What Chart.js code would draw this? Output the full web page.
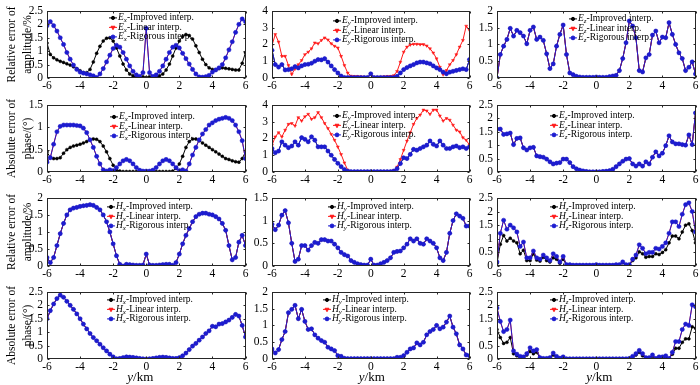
<!DOCTYPE html>
<html>
<head>
<meta charset="utf-8">
<script src="https://cdn.jsdelivr.net/npm/chart.js@4.4.1/dist/chart.umd.min.js"></script>
<style>
  body { margin: 0; background: #fff; }
  #fig { position: relative; width: 700px; height: 385px; background: #fff; overflow: hidden; }
  #fig canvas { position: absolute; }
</style>
</head>
<body>
<div id="fig"></div>
<script>
// y positions of the stations (km)
var yKm = [-6, -5.8, -5.6, -5.4, -5.2, -5, -4.8, -4.6, -4.4, -4.2,
  -4, -3.8, -3.6, -3.4, -3.2, -3, -2.8, -2.6, -2.4, -2.2,
  -2, -1.8, -1.6, -1.4, -1.2, -1, -0.8, -0.6, -0.4, -0.2,
  0,
  0.2, 0.4, 0.6, 0.8, 1, 1.2, 1.4, 1.6, 1.8, 2,
  2.2, 2.4, 2.6, 2.8, 3, 3.2, 3.4, 3.6, 3.8, 4,
  4.2, 4.4, 4.6, 4.8, 5, 5.2, 5.4, 5.6, 5.8, 6];

var xTicks = [-6, -4, -2, 0, 2, 4, 6];

// Ex amplitude (%)
var exAmpImp = [1.3, 0.88, 0.75, 0.68, 0.62, 0.58, 0.53, 0.48, 0.42, 0.35,
  0.27, 0.2, 0.2, 0.32, 0.6, 0.92, 1.18, 1.38, 1.48, 1.5,
  1.38, 1.12, 0.82, 0.52, 0.3, 0.15, 0.08, 0.03, 0.02, 0.05,
  0.02,
  0.05, 0.02, 0.03, 0.08, 0.15, 0.3, 0.52, 0.82, 1.12, 1.38,
  1.55, 1.62, 1.58, 1.45, 1.2, 0.95, 0.7, 0.5, 0.38, 0.32,
  0.3, 0.35, 0.38, 0.36, 0.34, 0.32, 0.3, 0.3, 0.55, 0.95];
var exAmpRig = [1.95, 2.1, 1.95, 1.75, 1.5, 1.25, 0.95, 0.7, 0.48, 0.32,
  0.22, 0.18, 0.15, 0.12, 0.08, 0.02, 0.15, 0.35, 0.6, 0.85,
  1.1, 1.22, 1.15, 0.95, 0.7, 0.45, 0.25, 0.12, 0.06, 0.2,
  1.85,
  0.2, 0.06, 0.12, 0.25, 0.45, 0.7, 0.95, 1.15, 1.22, 1.12,
  0.92, 0.72, 0.52, 0.32, 0.15, 0.04, 0.03, 0.05, 0.1, 0.22,
  0.3, 0.38, 0.5, 0.75, 1.05, 1.35, 1.7, 2.0, 2.2, 2.1];

// Ey amplitude (%)
var eyAmpLin = [1.95, 2.6, 2.15, 1.3, 1.3, 0.75, 0.22, 0.55, 0.8, 1.05,
  1.4, 1.55, 1.75, 2.1, 2.05, 2.25, 2.4, 2.28, 2.05, 1.9,
  1.8, 1.3, 0.75, 0.3, 0.12, 0.1, 0.1, 0.08, 0.06, 0.05,
  0.22,
  0.05, 0.05, 0.06, 0.08, 0.1, 0.1, 0.15, 0.4, 0.95, 1.55,
  1.85, 1.98, 2.02, 2.02, 2.0, 2.0, 1.92, 1.75, 1.5, 1.15,
  0.65, 0.2, 0.45, 0.8, 1.05, 1.4, 1.85, 2.25, 3.1, 2.85];
var eyAmpRig = [1.65, 0.8, 0.65, 0.8, 0.48, 0.5, 0.55, 0.68, 0.6, 0.72,
  0.8, 0.82, 0.88, 1.0, 1.1, 1.08, 1.15, 0.95, 0.72, 0.5,
  0.3, 0.12, 0.03, 0.03, 0.03, 0.03, 0.03, 0.03, 0.03, 0.03,
  0.25,
  0.03, 0.03, 0.03, 0.03, 0.03, 0.03, 0.03, 0.1, 0.3, 0.5,
  0.62, 0.72, 0.8, 0.9, 0.95, 0.95, 0.9, 0.85, 0.72, 0.6,
  0.5, 0.35, 0.25, 0.35, 0.4, 0.45, 0.5, 0.55, 0.5, 1.1];

// Ez amplitude (%)
var ezAmpRig = [0, 0.7, 0.95, 1.15, 1.48, 1.25, 1.42, 1.35, 1.25, 1.02,
  1.42, 1.52, 1.15, 1.22, 1.12, 0.72, 0.28, 0.42, 0.95, 1.3,
  1.58, 0.7, 0.15, 0.1, 0.05, 0.03, 0.02, 0.02, 0.02, 0.02,
  0.03,
  0.02, 0.02, 0.02, 0.04, 0.06, 0.08, 0.22, 0.58, 1.05, 1.7,
  1.55, 1.2, 0.22, 0.18, 0.6, 0.7, 1.28, 1.4, 1.05, 1.22,
  1.2, 1.65, 1.3, 1.0, 0.75, 0.58, 0.22, 0.32, 0.48, 0.12];

// Ex phase (deg)
var exPhImp = [0.45, 0.32, 0.3, 0.3, 0.32, 0.42, 0.5, 0.55, 0.58, 0.6,
  0.62, 0.65, 0.68, 0.72, 0.74, 0.73, 0.68, 0.58, 0.45, 0.3,
  0.15, 0.05, 0.02, 0.01, 0.01, 0.01, 0.01, 0.01, 0.01, 0.01,
  0.01,
  0.01, 0.01, 0.01, 0.01, 0.01, 0.01, 0.01, 0.02, 0.08, 0.18,
  0.35, 0.55, 0.68, 0.74, 0.74, 0.7, 0.65, 0.6, 0.55, 0.5,
  0.45, 0.4, 0.35, 0.3, 0.28, 0.25, 0.23, 0.22, 0.3, 0.45];
var exPhRig = [0.22, 0.32, 0.62, 0.9, 1.02, 1.05, 1.05, 1.05, 1.05, 1.04,
  1.03, 0.98, 0.88, 0.72, 0.55, 0.35, 0.18, 0.05, 0.02, 0.05,
  0.03, 0.1, 0.18, 0.25, 0.28, 0.25, 0.18, 0.1, 0.04, 0.02,
  0.02,
  0.02, 0.04, 0.1, 0.18, 0.25, 0.28, 0.25, 0.18, 0.1, 0.03,
  0.05, 0.02, 0.18, 0.38, 0.55, 0.72, 0.85, 0.95, 1.05, 1.1,
  1.15, 1.18, 1.2, 1.22, 1.2, 1.15, 1.05, 0.9, 0.7, 0.3];

// Ey phase (deg)
var eyPhLin = [1.6, 2.1, 2.35, 2.1, 2.5, 2.85, 2.9, 2.75, 3.25, 3.05,
  3.3, 3.45, 3.15, 3.25, 3.55, 3.25, 2.9, 2.6, 2.25, 1.9,
  1.5, 1.05, 0.55, 0.12, 0.02, 0.02, 0.02, 0.02, 0.02, 0.02,
  0.02,
  0.02, 0.02, 0.02, 0.02, 0.02, 0.02, 0.1, 0.3, 0.75, 1.3,
  1.85, 2.35, 2.85, 3.2, 3.4, 3.7, 3.65, 3.45, 3.7, 3.7,
  3.35, 3.05, 3.2, 3.1, 2.8, 2.5, 2.4, 2.05, 1.9, 1.6];
var eyPhRig = [1.4, 1.15, 1.25, 1.8, 1.6, 1.45, 1.55, 1.8, 1.6, 2.05,
  1.95, 1.8, 2.1, 1.9, 1.5, 1.5, 1.5, 1.25, 1.0, 0.75,
  0.52, 0.32, 0.15, 0.05, 0.02, 0.02, 0.02, 0.02, 0.02, 0.02,
  0.02,
  0.02, 0.02, 0.02, 0.02, 0.02, 0.02, 0.06, 0.2, 0.5, 0.85,
  0.8, 1.05, 1.35, 1.3, 1.4, 1.5, 1.6, 1.85, 1.65, 1.55,
  1.85, 1.6, 1.4, 1.4, 1.5, 1.55, 1.45, 1.5, 1.4, 1.5];

// Ez phase (deg)
var ezPhRig = [1.6, 1.6, 1.4, 1.42, 1.45, 1.02, 1.25, 1.27, 0.9, 0.82,
  0.9, 0.92, 0.6, 0.57, 0.55, 0.48, 0.38, 0.3, 0.33, 0.35,
  0.48, 0.48, 0.35, 0.2, 0.12, 0.07, 0.04, 0.02, 0.01, 0.01,
  0.01,
  0.01, 0.02, 0.03, 0.05, 0.1, 0.2, 0.3, 0.4, 0.48, 0.5,
  0.3, 0.22, 0.3, 0.22, 0.38, 0.3, 0.55, 0.75, 0.6, 0.7,
  0.98, 1.35, 1.12, 1.05, 1.05, 1.02, 1.0, 1.38, 1.02, 2.2];

// Hx amplitude (%)
var hxAmpRig = [0.25, 0.1, 0.25, 0.6, 0.95, 1.25, 1.5, 1.65, 1.7, 1.72,
  1.75, 1.77, 1.78, 1.8, 1.78, 1.72, 1.65, 1.5, 1.3, 1.0,
  0.65, 0.3, 0.05, 0.0, 0.05, 0.04, 0.03, 0.02, 0.02, 0.03,
  0.35,
  0.03, 0.02, 0.02, 0.03, 0.04, 0.05, 0.05, 0.02, 0.1, 0.35,
  0.65, 0.9, 1.1, 1.3, 1.45, 1.52, 1.55, 1.55, 1.52, 1.5,
  1.45, 1.38, 1.25, 1.05, 0.6, 0.18, 0.25, 0.7, 0.9, 0.6];

// Hy amplitude (%)
var hyAmpRig = [0.92, 0.8, 0.9, 1.12, 1.22, 0.95, 0.5, 0.1, 0.15, 0.45,
  0.45, 0.35, 0.45, 0.52, 0.5, 0.58, 0.58, 0.55, 0.55, 0.48,
  0.4, 0.3, 0.25, 0.22, 0.12, 0.08, 0.05, 0.03, 0.02, 0.02,
  0.15,
  0.02, 0.02, 0.05, 0.08, 0.12, 0.18, 0.3, 0.32, 0.33, 0.4,
  0.48, 0.6, 0.55, 0.6, 0.5, 0.48, 0.6, 0.55, 0.5, 0.4,
  0.18, 0.12, 0.3, 0.72, 1.0, 1.15, 1.1, 1.05, 0.88, 0.88];

// Hz amplitude (%)
var hzAmpImp = [0.1, 0.8, 1.12, 0.92, 1.02, 0.92, 0.85, 0.45, 0.58, 0.2,
  0.2, 0.45, 0.22, 0.18, 0.32, 0.2, 0.15, 0.3, 0.25, 0.1,
  0.25, 0.03, 0.03, 0.02, 0.02, 0.02, 0.02, 0.02, 0.02, 0.02,
  0.03,
  0.02, 0.02, 0.02, 0.02, 0.02, 0.03, 0.03, 0.12, 0.03, 0.03,
  0.2, 0.3, 0.52, 0.45, 0.32, 0.35, 0.35, 0.45, 0.42, 0.5,
  0.6, 0.85, 1.1, 1.1, 1.0, 1.25, 1.5, 1.55, 1.3, 0.85];
var hzAmpRig = [0.15, 1.2, 1.68, 1.35, 1.5, 1.4, 1.25, 0.72, 0.88, 0.3,
  0.3, 0.55, 0.3, 0.25, 0.4, 0.3, 0.2, 0.45, 0.35, 0.15,
  0.35, 0.05, 0.05, 0.03, 0.03, 0.03, 0.03, 0.03, 0.03, 0.03,
  0.05,
  0.03, 0.03, 0.03, 0.03, 0.03, 0.05, 0.05, 0.15, 0.05, 0.05,
  0.25, 0.4, 0.78, 0.65, 0.45, 0.5, 0.5, 0.65, 0.62, 0.72,
  0.85, 1.2, 1.62, 1.62, 1.45, 1.9, 2.25, 2.32, 2.0, 1.25];

// Hx phase (deg)
var hxPhRig = [1.5, 1.8, 2.05, 2.25, 2.38, 2.3, 2.15, 2.0, 1.85, 1.68,
  1.5, 1.3, 1.12, 0.95, 0.8, 0.68, 0.55, 0.42, 0.3, 0.18,
  0.08, 0.01, 0.02, 0.05, 0.08, 0.07, 0.06, 0.04, 0.02, 0.01,
  0.0,
  0.01, 0.02, 0.04, 0.06, 0.07, 0.06, 0.04, 0.02, 0.02, 0.05,
  0.12, 0.22, 0.35, 0.48, 0.58, 0.7, 0.82, 0.95, 1.05, 1.22,
  1.2, 1.3, 1.32, 1.38, 1.45, 1.55, 1.66, 1.6, 1.25, 0.82];

// Hy phase (deg)
var hyPhRig = [0.3, 0.18, 0.28, 0.58, 0.82, 1.38, 1.48, 1.6, 1.2, 1.48,
  1.12, 0.88, 0.9, 0.72, 0.62, 0.55, 0.5, 0.35, 0.3, 0.25,
  0.1, 0.08, 0.02, 0.01, 0.01, 0.01, 0.01, 0.01, 0.01, 0.01,
  0.01,
  0.01, 0.01, 0.01, 0.01, 0.01, 0.01, 0.01, 0.05, 0.05, 0.1,
  0.2, 0.3, 0.33, 0.48, 0.42, 0.5, 0.72, 0.82, 0.88, 1.0,
  0.9, 0.95, 1.1, 1.28, 0.95, 0.75, 0.42, 0.3, 0.12, 0.1];

// Hz phase (deg)
var hzPhImp = [1.1, 0.8, 0.58, 0.62, 0.8, 0.2, 0.12, 0.06, 0.06, 0.15,
  0.28, 0.2, 0.25, 0.03, 0.01, 0.01, 0.03, 0.15, 0.06, 0.02,
  0.05, 0.01, 0.01, 0.01, 0.01, 0.01, 0.01, 0.01, 0.01, 0.01,
  0.01,
  0.01, 0.01, 0.01, 0.01, 0.01, 0.01, 0.01, 0.01, 0.01, 0.01,
  0.06, 0.15, 0.25, 0.12, 0.03, 0.03, 0.1, 0.01, 0.05, 0.05,
  0.08, 0.01, 0.18, 0.4, 0.4, 0.62, 0.75, 0.75, 1.2, 1.15];
var hzPhRig = [1.9, 1.4, 1.02, 1.1, 1.45, 0.3, 0.18, 0.1, 0.08, 0.2,
  0.42, 0.3, 0.35, 0.05, 0.02, 0.02, 0.05, 0.22, 0.1, 0.03,
  0.08, 0.01, 0.01, 0.01, 0.01, 0.01, 0.01, 0.01, 0.01, 0.01,
  0.01,
  0.01, 0.01, 0.01, 0.01, 0.01, 0.01, 0.01, 0.01, 0.01, 0.02,
  0.1, 0.2, 0.32, 0.2, 0.05, 0.05, 0.15, 0.02, 0.08, 0.08,
  0.12, 0.02, 0.25, 0.65, 0.65, 1.1, 1.3, 1.25, 2.02, 1.95];

var seriesNames = ['-Improved interp.', '-Linear interp.', '-Rigorous interp.'];
var ampTitle = ['Relative error of', 'amplitude/%'];
var phaseTitle = ['Absolute error of', 'phase/(\u00b0)'];

var FONT = '"Liberation Serif", "Times New Roman", serif';
var BLACK = '#000000';
var RED = '#ff1a1a';
var BLUE = '#1c1cd0';

var markers = [
  { color: BLACK, style: 'circle', radius: 1.6, rot: 0 },
  { color: RED, style: 'triangle', radius: 2.3, rot: 180 },
  { color: BLUE, style: 'circle', radius: 1.9, rot: 0 }
];

// canvas boxes: each plot area is placed where the figure has it
var cols = [
  { left: 0, w: 250, yw: 47, pr: 3, tshift: -6 },
  { left: 250, w: 224, yw: 22, pr: 3, tshift: 1 },
  { left: 474, w: 226, yw: 23, pr: 2, tshift: 3 }
];
var rows = [
  { top: 0, h: 90, pb: 0, title: ampTitle },
  { top: 94, h: 90, pb: 0, title: phaseTitle },
  { top: 187, h: 91, pb: 0, title: ampTitle },
  { top: 281, h: 104, pb: 14, title: phaseTitle }
];

var panels = [
  { r: 0, c: 0, ymax: 2.5, step: 0.5, f: 'E', s: 'x', imp: exAmpImp, lin: exAmpRig, rig: exAmpRig, lg: [62, 7] },
  { r: 0, c: 1, ymax: 4, step: 1, f: 'E', s: 'y', imp: eyAmpRig, lin: eyAmpLin, rig: eyAmpRig, lg: [61, 10] },
  { r: 0, c: 2, ymax: 2, step: 0.5, f: 'E', s: 'z', imp: ezAmpRig, lin: ezAmpRig, rig: ezAmpRig, lg: [72, 8] },
  { r: 1, c: 0, ymax: 1.5, step: 0.5, f: 'E', s: 'x', imp: exPhImp, lin: exPhRig, rig: exPhRig, lg: [63, 12] },
  { r: 1, c: 1, ymax: 4, step: 1, f: 'E', s: 'y', imp: eyPhRig, lin: eyPhLin, rig: eyPhRig, lg: [61, 11] },
  { r: 1, c: 2, ymax: 2.5, step: 0.5, f: 'E', s: 'z', imp: ezPhRig, lin: ezPhRig, rig: ezPhRig, lg: [53, 11] },
  { r: 2, c: 0, ymax: 2, step: 0.5, f: 'H', s: 'x', imp: hxAmpRig, lin: hxAmpRig, rig: hxAmpRig, lg: [60, 9] },
  { r: 2, c: 1, ymax: 1.5, step: 0.5, f: 'H', s: 'y', imp: hyAmpRig, lin: hyAmpRig, rig: hyAmpRig, lg: [56, 9] },
  { r: 2, c: 2, ymax: 2.5, step: 0.5, f: 'H', s: 'z', imp: hzAmpImp, lin: hzAmpRig, rig: hzAmpRig, lg: [53, 9] },
  { r: 3, c: 0, ymax: 2.5, step: 0.5, f: 'H', s: 'x', imp: hxPhRig, lin: hxPhRig, rig: hxPhRig, lg: [60, 8] },
  { r: 3, c: 1, ymax: 2, step: 0.5, f: 'H', s: 'y', imp: hyPhRig, lin: hyPhRig, rig: hyPhRig, lg: [51, 8] },
  { r: 3, c: 2, ymax: 2.5, step: 0.5, f: 'H', s: 'z', imp: hzPhImp, lin: hzPhRig, rig: hzPhRig, lg: [53, 8] }
];

function pts(arr) {
  return yKm.map(function(x, i) { return { x: x, y: arr[i] }; });
}

// frame, inward ticks, legend and x title
var panelDeco = {
  id: 'panelDeco',
  afterDraw: function(chart, args, o) {
    var ctx = chart.ctx, a = chart.chartArea;
    var xs = chart.scales.x, ys = chart.scales.y;
    ctx.save();
    ctx.strokeStyle = '#262626';
    ctx.lineWidth = 1;
    var L = Math.round(a.left) + 0.5, T = Math.round(a.top) + 0.5;
    var R = Math.round(a.right) - 0.5, B = Math.round(a.bottom) - 0.5;
    ctx.strokeRect(L, T, R - L, B - T);
    ctx.beginPath();
    xs.ticks.forEach(function(t) {
      var px = Math.round(xs.getPixelForValue(t.value)) + 0.5;
      ctx.moveTo(px, B); ctx.lineTo(px, B - 2);
      ctx.moveTo(px, T); ctx.lineTo(px, T + 2);
    });
    ys.ticks.forEach(function(t) {
      var py = Math.round(ys.getPixelForValue(t.value)) + 0.5;
      ctx.moveTo(L, py); ctx.lineTo(L + 2, py);
      ctx.moveTo(R, py); ctx.lineTo(R - 2, py);
    });
    ctx.stroke();

    // legend
    var x0 = a.left + o.lx, y0 = a.top + o.ly;
    ctx.textBaseline = 'middle';
    ctx.textAlign = 'left';
    for (var i = 0; i < 3; i++) {
      var m = markers[i];
      var y = y0 + i * 9.5;
      ctx.strokeStyle = m.color;
      ctx.fillStyle = m.color;
      ctx.lineWidth = 1;
      ctx.beginPath();
      ctx.moveTo(x0, y); ctx.lineTo(x0 + 8, y);
      ctx.stroke();
      Chart.helpers.drawPoint(ctx, { pointStyle: m.style, radius: m.radius, rotation: m.rot, borderWidth: 1 }, x0 + 4, y);
      ctx.fillStyle = '#000';
      var tx = x0 + 9;
      ctx.font = 'italic 9.5px ' + FONT;
      ctx.fillText(o.f, tx, y);
      tx += ctx.measureText(o.f).width;
      ctx.font = 'italic 7px ' + FONT;
      ctx.fillText(o.s, tx, y + 2.5);
      tx += ctx.measureText(o.s).width;
      ctx.font = '9.5px ' + FONT;
      ctx.fillText(seriesNames[i], tx, y);
    }

    // x axis title on the bottom row
    if (o.xTitle) {
      ctx.fillStyle = '#000';
      ctx.font = 'italic 13px ' + FONT;
      var w1 = ctx.measureText('y').width;
      ctx.font = '13px ' + FONT;
      var w2 = ctx.measureText('/km').width;
      var cx = (a.left + a.right) / 2 + o.tshift - (w1 + w2) / 2;
      var cy = a.bottom + 19;
      ctx.font = 'italic 13px ' + FONT;
      ctx.fillText('y', cx, cy);
      ctx.font = '13px ' + FONT;
      ctx.fillText('/km', cx + w1, cy);
    }
    ctx.restore();
  }
};

var fig = document.getElementById('fig');

panels.forEach(function(p) {
  var c = cols[p.c], r = rows[p.r];
  var cv = document.createElement('canvas');
  cv.width = c.w;
  cv.height = r.h;
  cv.style.left = c.left + 'px';
  cv.style.top = r.top + 'px';
  cv.style.width = c.w + 'px';
  cv.style.height = r.h + 'px';
  fig.appendChild(cv);

  var tickFont = { family: FONT, size: 11.5 };

  new Chart(cv, {
    type: 'line',
    data: {
      // first dataset is drawn on top
      datasets: [
        { data: pts(p.rig), borderColor: BLUE, backgroundColor: BLUE, pointStyle: 'circle', pointRadius: 2.1, pointBorderWidth: 0.5 },
        { data: pts(p.lin), borderColor: RED, backgroundColor: RED, pointStyle: 'triangle', pointRotation: 180, pointRadius: 1.7, pointBorderWidth: 0.5 },
        { data: pts(p.imp), borderColor: BLACK, backgroundColor: BLACK, pointStyle: 'circle', pointRadius: 1.5, pointBorderWidth: 0.5 }
      ]
    },
    options: {
      responsive: false,
      animation: false,
      devicePixelRatio: 1,
      events: [],
      elements: { line: { borderWidth: 1, tension: 0 } },
      layout: { padding: { top: 6, right: c.pr, bottom: r.pb, left: 0 } },
      plugins: {
        legend: { display: false },
        tooltip: { enabled: false },
        panelDeco: { lx: p.lg[0], ly: p.lg[1], f: p.f, s: p.s, xTitle: p.r === 3, tshift: c.tshift }
      },
      scales: {
        x: {
          type: 'linear', min: -6, max: 6,
          grid: { display: false, drawTicks: false },
          border: { display: false },
          afterBuildTicks: function(s) { s.ticks = xTicks.map(function(v) { return { value: v }; }); },
          ticks: { padding: 1, maxRotation: 0, autoSkip: false, color: '#000', font: tickFont,
            callback: function(v) { return String(v); } },
          afterFit: function(s) { s.height = 12; }
        },
        y: {
          min: 0, max: p.ymax,
          grid: { display: false, drawTicks: false },
          border: { display: false },
          ticks: { stepSize: p.step, padding: 4, autoSkip: false, color: '#000', font: tickFont,
            callback: function(v) { return String(v); } },
          title: { display: p.c === 0, text: r.title, color: '#000', padding: { top: 4, bottom: 0 },
            font: { family: FONT, size: 11.5, lineHeight: 1.39 } },
          afterFit: function(s) { s.width = c.yw; }
        }
      }
    },
    plugins: [panelDeco]
  });
});
</script>
</body>
</html>
